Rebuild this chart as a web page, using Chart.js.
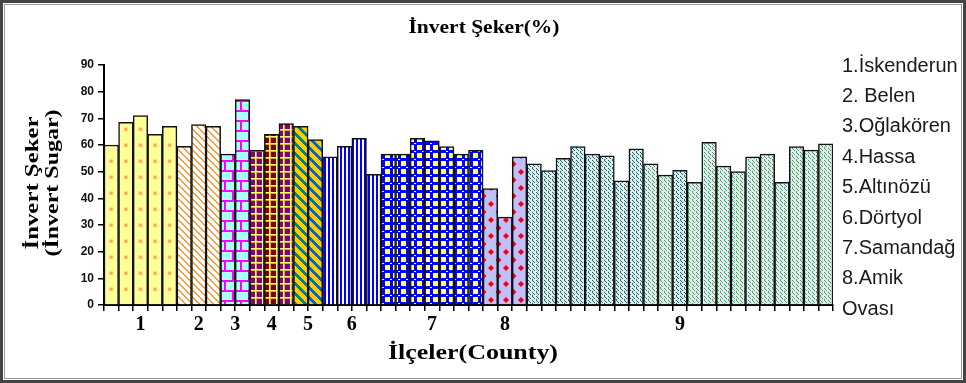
<!DOCTYPE html>
<html>
<head>
<meta charset="utf-8">
<script src="https://cdn.jsdelivr.net/npm/chart.js@4.4.1/dist/chart.umd.min.js"></script>
<style>
  html, body { margin: 0; padding: 0; background: #fff; overflow: hidden; }
  #wrap { position: relative; width: 966px; height: 383px; }
</style>
</head>
<body>
<div id="wrap"><canvas id="c" width="966" height="383"></canvas></div>
<script>
// İnvert şeker (%) samples, one array per county (ilçe)
const countyLabels = ['1', '2', '3', '4', '5', '6', '7', '8', '9'];
const iskenderun = [60, 68.5, 71, 64, 67];
const belen      = [59.5, 67.7, 67];
const oglakoren  = [56.6, 77];
const hassa      = [58, 64, 68];
const altinozu   = [67, 62];
const dortyol    = [55.6, 59.5, 62.5, 49];
const samandag   = [56.6, 56.6, 62.5, 61.6, 59.4, 56.6, 58];
const amikOvasi  = [43.7, 33, 55.6];
const ilce9      = [52.9, 50.4, 55, 59.4, 56.6, 55.9, 46.6, 58.6, 52.9, 48.7, 50.5,
                    46, 61, 52.1, 50, 55.6, 56.6, 46, 59.4, 58.1, 60.4];
const legendLines = ['1.İskenderun', '2. Belen', '3.Oğlakören', '4.Hassa', '5.Altınözü',
                     '6.Dörtyol', '7.Samandağ', '8.Amik', 'Ovası'];
const yMin = 0, yMax = 90, yStep = 10;

const groups = [iskenderun, belen, oglakoren, hassa, altinozu, dortyol, samandag, amikOvasi, ilce9];
const values = [];
const groupOf = [];
const posInGroup = [];
groups.forEach((g, gi) => g.forEach((v, k) => { values.push(v); groupOf.push(gi); posInGroup.push(k); }));
const barLabels = values.map((_, i) => String(i + 1));

// ---------- hatch fills ----------
const mainCtx = document.getElementById('c').getContext('2d');
function tile(w, h, draw) {
  const c = document.createElement('canvas');
  c.width = w; c.height = h;
  const g = c.getContext('2d');
  draw(g, w, h);
  return mainCtx.createPattern(c, 'repeat');
}
function diag(bg, fg, size, thick) {
  return tile(size, size, (g) => {
    g.fillStyle = bg; g.fillRect(0, 0, size, size);
    g.fillStyle = fg;
    for (let y = 0; y < size; y++)
      for (let t = 0; t < thick; t++) g.fillRect((y + t) % size, y, 1, 1);
  });
}
const fillBelen = diag('#ffffff', '#ff9933', 7, 2);
const fillOglakoren = tile(16, 20, (g) => {
  g.fillStyle = '#aaffff'; g.fillRect(0, 0, 16, 20);
  g.fillStyle = '#ff00ff';
  g.fillRect(0, 0, 16, 2); g.fillRect(0, 10, 16, 2);
  g.fillRect(0, 2, 2, 8); g.fillRect(8, 12, 2, 8);
});
function plaid(bg) {
  return tile(7, 7, (g) => {
    g.fillStyle = bg; g.fillRect(0, 0, 7, 7);
    g.fillStyle = '#c8b040'; g.fillRect(4, 0, 1, 7); g.fillRect(0, 4, 7, 1);
    g.fillStyle = '#ffff66'; g.fillRect(3, 0, 1, 7); g.fillRect(0, 3, 7, 1);
  });
}
const fillHassaA = plaid('#800080');
const fillHassaB = plaid('#800000');
const fillAltinozuA = diag('#ffcc00', '#008080', 10, 4);
const fillAltinozuB = diag('#ffcc00', '#0066cc', 10, 4);
const fillDortyol = tile(4, 1, (g) => {
  g.fillStyle = '#ffffff'; g.fillRect(0, 0, 4, 1);
  g.fillStyle = '#0000ff'; g.fillRect(0, 0, 2, 1);
});
const fillSamandag = tile(16, 16, (g) => {
  g.fillStyle = '#0000ff'; g.fillRect(0, 0, 16, 16);
  g.fillStyle = '#ffff66';
  g.fillRect(1, 1, 5, 5); g.fillRect(9, 9, 5, 5); g.fillRect(1, 9, 5, 5); g.fillRect(9, 1, 5, 5);
  g.fillRect(6, 7, 2, 1); g.fillRect(14, 15, 2, 1);
  g.fillStyle = '#ffffff';
  g.fillRect(10, 2, 3, 3); g.fillRect(14, 7, 2, 1);
});
const fillAmik = tile(15, 16, (g) => {
  g.fillStyle = '#c0c0ff'; g.fillRect(0, 0, 15, 16);
  g.fillStyle = '#ff0000';
  const dia = (cx, cy, r) => {
    g.beginPath(); g.moveTo(cx, cy - r); g.lineTo(cx + r, cy); g.lineTo(cx, cy + r); g.lineTo(cx - r, cy); g.closePath(); g.fill();
  };
  dia(3.5, 4, 3); dia(11, 12, 3); dia(18.5, 4, 3); dia(-4, 12, 3); dia(3.5, 20, 3); dia(11, -4, 3);
});
function weave(fg) {
  return tile(8, 8, (g) => {
    g.fillStyle = '#b4ffff'; g.fillRect(0, 0, 8, 8);
    g.fillStyle = fg;
    for (let y = 0; y < 8; y++)
      for (let x = 0; x < 8; x++)
        if (((x - y + 8) % 4 === 0 && y % 4 !== 3) || ((x + y) % 8 === 3 && y % 4 === 3)) g.fillRect(x, y, 1, 1);
  });
}
const fillWeaveDark = weave('#993333');
const fillWeaveLight = weave('#cc6633');
const weaveTone = [0, 0, 0, 0, 0, 0, 0, 0, 1, 1, 0, 1, 1, 1, 1, 1, 1, 1, 1, 1, 1];

function barFill(i) {
  const g = groupOf[i], k = posInGroup[i];
  switch (g) {
    case 0: return '#ffff99';
    case 1: return fillBelen;
    case 2: return fillOglakoren;
    case 3: return k === 1 ? fillHassaB : fillHassaA;
    case 4: return k === 0 ? fillAltinozuA : fillAltinozuB;
    case 5: return fillDortyol;
    case 6: return fillSamandag;
    case 7: return fillAmik;
    default: return weaveTone[k] ? fillWeaveLight : fillWeaveDark;
  }
}

// text squeezed/stretched horizontally to a given width
function fitText(ctx, text, x, y, font, width, rot) {
  ctx.save();
  ctx.font = font;
  const w = ctx.measureText(text).width;
  ctx.translate(x, y);
  if (rot) ctx.rotate(rot);
  ctx.scale(width / w, 1);
  ctx.textAlign = 'center';
  ctx.textBaseline = 'middle';
  ctx.fillText(text, 0, 0);
  ctx.restore();
}

const decor = {
  id: 'decor',
  beforeDraw(chart) {
    const ctx = chart.ctx;
    ctx.save();
    ctx.fillStyle = '#ffffff';
    ctx.fillRect(0, 0, chart.width, chart.height);
    ctx.restore();
  },
  afterDatasetsDraw(chart) {
    const ctx = chart.ctx;
    const meta = chart.getDatasetMeta(0);
    // orange dots inside the İskenderun bars
    ctx.save();
    meta.data.forEach((bar, i) => {
      if (groupOf[i] !== 0) return;
      for (let y = bar.base - 15; y > bar.y + 4; y -= 16) {
        ctx.fillStyle = 'rgba(255,153,51,0.45)';
        ctx.fillRect(bar.x - 2, y - 2, 4, 4);
        ctx.fillStyle = '#ff9933';
        ctx.fillRect(bar.x - 1, y - 1, 2, 2);
      }
    });
    ctx.restore();
  },
  afterDraw(chart) {
    const ctx = chart.ctx;
    const meta = chart.getDatasetMeta(0);
    ctx.save();
    ctx.fillStyle = '#000';
    // county numbers under each group of bars
    ctx.font = 'bold 20px "Liberation Serif"';
    ctx.textAlign = 'center';
    ctx.textBaseline = 'middle';
    countyLabels.forEach((lab, gi) => {
      const xsIn = meta.data.filter((_, i) => groupOf[i] === gi).map(b => b.x);
      const cx = xsIn.reduce((a, b) => a + b, 0) / xsIn.length;
      ctx.fillText(lab, cx, 325);
    });
    // titles
    fitText(ctx, 'İnvert Şeker(%)', 484, 28, 'bold 19px "Liberation Serif"', 151);
    fitText(ctx, 'İlçeler(County)', 473, 354, 'bold 21px "Liberation Serif"', 170);
    fitText(ctx, 'İnvert Şeker', 33, 183, 'bold 19px "Liberation Serif"', 133, -Math.PI / 2);
    fitText(ctx, '(İnvert Sugar)', 53, 183, 'bold 19px "Liberation Serif"', 147, -Math.PI / 2);
    // county names on the right
    ctx.font = '20px "Liberation Sans"';
    ctx.textAlign = 'left';
    ctx.fillStyle = '#1a1a1a';
    legendLines.forEach((t, i) => ctx.fillText(t, 842, 66 + i * 30.4));
    // frame
    ctx.strokeStyle = '#444';
    ctx.lineWidth = 3;
    ctx.strokeRect(1.5, 1.5, chart.width - 3, chart.height - 3);
    ctx.strokeStyle = '#999';
    ctx.lineWidth = 1;
    ctx.strokeRect(4.5, 4.5, chart.width - 9, chart.height - 9);
    ctx.restore();
  }
};

new Chart(mainCtx, {
  type: 'bar',
  data: {
    labels: barLabels,
    datasets: [{
      data: values,
      backgroundColor: (c) => barFill(c.dataIndex),
      borderColor: '#111',
      borderWidth: 1.5,
      barPercentage: 1,
      categoryPercentage: 1
    }]
  },
  options: {
    responsive: false,
    animation: false,
    devicePixelRatio: 1,
    layout: { padding: { left: 0, right: 133, top: 65, bottom: 68 } },
    plugins: { legend: { display: false }, tooltip: { enabled: false }, title: { display: false } },
    scales: {
      x: {
        type: 'category',
        offset: true,
        grid: { offset: true, drawOnChartArea: false, drawTicks: true, tickLength: 6, color: '#000', lineWidth: 1.5 },
        border: { display: true, color: '#000', width: 2 },
        ticks: { display: false, autoSkip: false },
        afterFit(s) { s.height = 10; s.paddingLeft = 0; s.paddingRight = 0; }
      },
      y: {
        min: yMin, max: yMax,
        grid: { drawOnChartArea: false, drawTicks: true, tickLength: 6, color: '#000', lineWidth: 1.5 },
        border: { display: true, color: '#000', width: 2 },
        ticks: { stepSize: yStep, padding: 4, color: '#111', font: { family: 'Liberation Sans', size: 12, weight: 'bold' } },
        afterFit(s) { s.width = 104; s.paddingTop = 0; s.paddingBottom = 0; }
      }
    }
  },
  plugins: [decor]
});
</script>
</body>
</html>
